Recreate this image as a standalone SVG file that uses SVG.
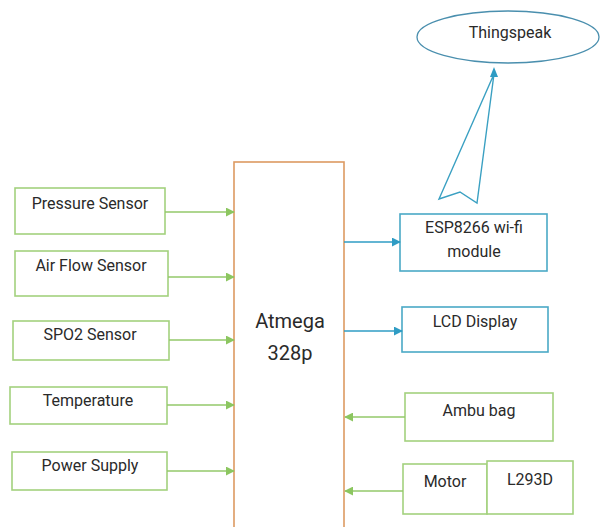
<svg xmlns="http://www.w3.org/2000/svg" width="600" height="527" viewBox="0 0 600 527">
<defs>
<style>
.g{fill:#fff;stroke:#a3d17e;stroke-width:1.6}
.b{fill:#fff;stroke:#4aa9c6;stroke-width:1.6}
.t{font-family:Roboto,"Liberation Sans",sans-serif;font-size:16px;fill:#2a2a2a;text-anchor:middle;dominant-baseline:middle}
.gl{stroke:#93c86a;stroke-width:1.6;fill:none}
.bl{stroke:#2f9cc4;stroke-width:1.6;fill:none}
</style>
<marker id="ag" viewBox="0 0 10 10" refX="9" refY="5" markerWidth="9" markerHeight="9" markerUnits="userSpaceOnUse" orient="auto"><path d="M0,0L10,5L0,10z" fill="#8cc660"/></marker>
<marker id="ab" viewBox="0 0 10 10" refX="9" refY="5" markerWidth="9" markerHeight="9" markerUnits="userSpaceOnUse" orient="auto"><path d="M0,0L10,5L0,10z" fill="#2f9cc4"/></marker>
</defs>
<rect width="600" height="527" fill="#fff"/>
<g id="atmega"><rect x="234" y="162" width="110" height="370" fill="#fff" stroke="#dc9a62" stroke-width="1.6"/><text class="t" x="290" y="323" style="font-size:20px">Atmega</text><text class="t" x="290" y="355" style="font-size:20px">328p</text></g>
<g id="pressure"><rect class="g" x="15" y="188" width="150" height="46"/><text class="t" x="90" y="205">Pressure Sensor</text></g>
<g id="airflow"><rect class="g" x="15" y="251" width="153" height="45"/><text class="t" x="91" y="267">Air Flow Sensor</text></g>
<g id="spo2"><rect class="g" x="13" y="321" width="156" height="39"/><text class="t" x="90" y="336">SPO2 Sensor</text></g>
<g id="temperature"><rect class="g" x="10" y="387" width="157" height="37"/><text class="t" x="88" y="402">Temperature</text></g>
<g id="power"><rect class="g" x="12" y="452" width="155" height="38"/><text class="t" x="90" y="467">Power Supply</text></g>
<g id="esp"><rect class="b" x="400" y="214" width="147" height="57"/><text class="t" x="474" y="229">ESP8266 wi-fi</text><text class="t" x="474" y="253">module</text></g>
<g id="lcd"><rect class="b" x="402" y="307" width="146" height="45"/><text class="t" x="475" y="323">LCD Display</text></g>
<g id="ambu"><rect class="g" x="405" y="393" width="148" height="48"/><text class="t" x="479" y="412">Ambu bag</text></g>
<g id="motor"><rect class="g" x="403" y="464" width="84" height="50"/><text class="t" x="445" y="483">Motor</text></g>
<g id="l293d"><rect class="g" x="487" y="461" width="86" height="53"/><text class="t" x="530" y="481">L293D</text></g>
<g id="thingspeak"><ellipse cx="508" cy="37" rx="91" ry="26" fill="#fff" stroke="#4a8fae" stroke-width="1.3"/><text class="t" x="510" y="34">Thingspeak</text></g>
<g id="connectors">
<line class="gl" x1="165" y1="212" x2="234" y2="212" marker-end="url(#ag)"/>
<line class="gl" x1="168" y1="277" x2="234" y2="277" marker-end="url(#ag)"/>
<line class="gl" x1="169" y1="340" x2="234" y2="340" marker-end="url(#ag)"/>
<line class="gl" x1="167" y1="405" x2="234" y2="405" marker-end="url(#ag)"/>
<line class="gl" x1="167" y1="471" x2="234" y2="471" marker-end="url(#ag)"/>
<line class="gl" x1="405" y1="417" x2="345" y2="417" marker-end="url(#ag)"/>
<line class="gl" x1="403" y1="491" x2="345" y2="491" marker-end="url(#ag)"/>
<line class="bl" x1="344" y1="242" x2="400" y2="242" marker-end="url(#ab)"/>
<line class="bl" x1="344" y1="331" x2="402" y2="331" marker-end="url(#ab)"/>
<polygon points="494,74 439,199 460,192 477,203" fill="#fff" stroke="#3aa0c2" stroke-width="1.4" stroke-linejoin="miter"/>
<path d="M494,67L490,77L498,77z" fill="#2f9cc4"/>
</g>
</svg>
